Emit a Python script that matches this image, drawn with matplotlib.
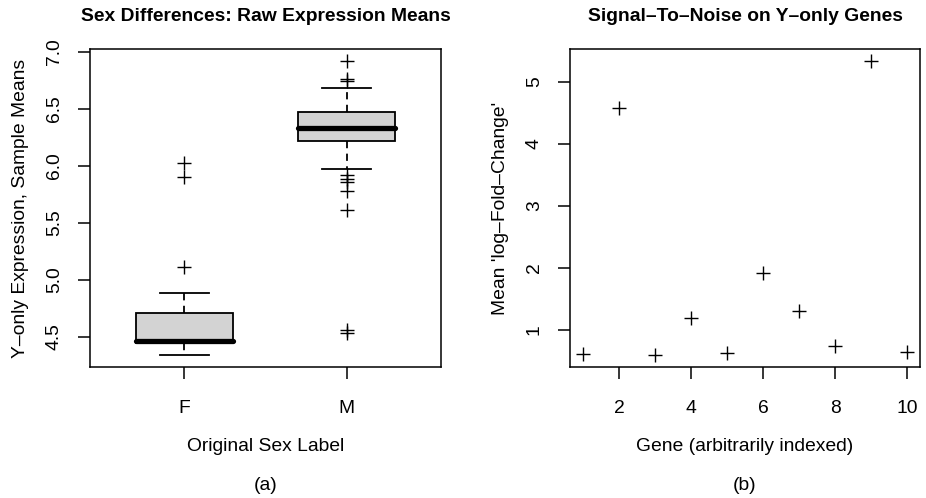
import matplotlib
matplotlib.use("Agg")
import matplotlib.pyplot as plt

plt.rcParams['font.family'] = ['Liberation Sans', 'DejaVu Sans']

# left panel: box statistics
sex_labels = ["F", "M"]
sex_med = [4.465, 6.335]
sex_q1 = [4.445, 6.219]
sex_q3 = [4.71, 6.47]
sex_whislo = [4.34, 5.974]
sex_whishi = [4.885, 6.683]
sex_fliers = [
    [5.11, 5.90, 6.02],
    [6.922, 6.76, 6.745, 5.921, 5.886, 5.857, 5.775, 5.609, 4.564, 4.535],
]

# right panel: signal-to-noise per gene
gene_idx = [1, 2, 3, 4, 5, 6, 7, 8, 9, 10]
mean_lfc = [0.61, 4.58, 0.59, 1.19, 0.63, 1.92, 1.31, 0.74, 5.34, 0.64]

FS = 13.9

fig = plt.figure(figsize=(9.26, 4.98), dpi=100)
ax1 = fig.add_axes([90 / 926, 1 - 367 / 498, 351 / 926, 318 / 498])
ax2 = fig.add_axes([570 / 926, 1 - 367 / 498, 350 / 926, 318 / 498])

stats = []
for i in range(len(sex_labels)):
    stats.append(dict(med=sex_med[i], q1=sex_q1[i], q3=sex_q3[i],
                      whislo=sex_whislo[i], whishi=sex_whishi[i],
                      fliers=sex_fliers[i], label=sex_labels[i]))

ax1.bxp(stats, positions=[1, 2], widths=0.6, patch_artist=True,
        boxprops=dict(facecolor="#d3d3d3", edgecolor="black", linewidth=1.3),
        medianprops=dict(color="black", linewidth=3.8, solid_capstyle="round"),
        whiskerprops=dict(color="black", linewidth=1.3, linestyle=(0, (4, 3))),
        capprops=dict(color="black", linewidth=1.3),
        capwidths=0.3,
        flierprops=dict(marker="+", markersize=9.5, markeredgecolor="black",
                        markeredgewidth=1.0, linestyle="none"))
ax1.set_xlim(0.42, 2.58)
ax1.set_ylim(4.237, 7.023)
ax1.set_yticks([4.5, 5.0, 5.5, 6.0, 6.5, 7.0])
ax1.set_yticklabels(["4.5", "5.0", "5.5", "6.0", "6.5", "7.0"])
ax1.set_title("Sex Differences: Raw Expression Means", fontsize=FS,
              fontweight="bold", pad=20.5)
ax1.set_xlabel("Original Sex Label", fontsize=FS, labelpad=15)
ax1.set_ylabel("Y\u2013only Expression, Sample Means", fontsize=FS, labelpad=12)

ax2.plot(gene_idx, mean_lfc, linestyle="none", marker="+", markersize=9.5,
         markeredgecolor="black", markeredgewidth=1.0)
ax2.set_xlim(0.64, 10.36)
ax2.set_ylim(0.40, 5.53)
ax2.set_xticks([2, 4, 6, 8, 10])
ax2.set_yticks([1, 2, 3, 4, 5])
ax2.set_title("Signal\u2013To\u2013Noise on Y\u2013only Genes", fontsize=FS,
              fontweight="bold", pad=20.5)
ax2.set_xlabel("Gene (arbitrarily indexed)", fontsize=FS, labelpad=15)
ax2.set_ylabel("Mean 'log\u2013Fold\u2013Change'", fontsize=FS, labelpad=12)

for ax in (ax1, ax2):
    for s in ax.spines.values():
        s.set_linewidth(1.1)
    ax.tick_params(axis="both", direction="out", length=8.6, width=1.1,
                   labelsize=FS)
    ax.tick_params(axis="x", pad=15)
    ax.tick_params(axis="y", pad=11)
    for lab in ax.get_yticklabels():
        lab.set_rotation(90)
        lab.set_va("center")

fig.text((90 + 351 / 2) / 926, 1 - 485 / 498, "(a)", fontsize=FS,
         ha="center", va="center")
fig.text((570 + 350 / 2) / 926, 1 - 485 / 498, "(b)", fontsize=FS,
         ha="center", va="center")

fig.savefig("out.png", dpi=100)
